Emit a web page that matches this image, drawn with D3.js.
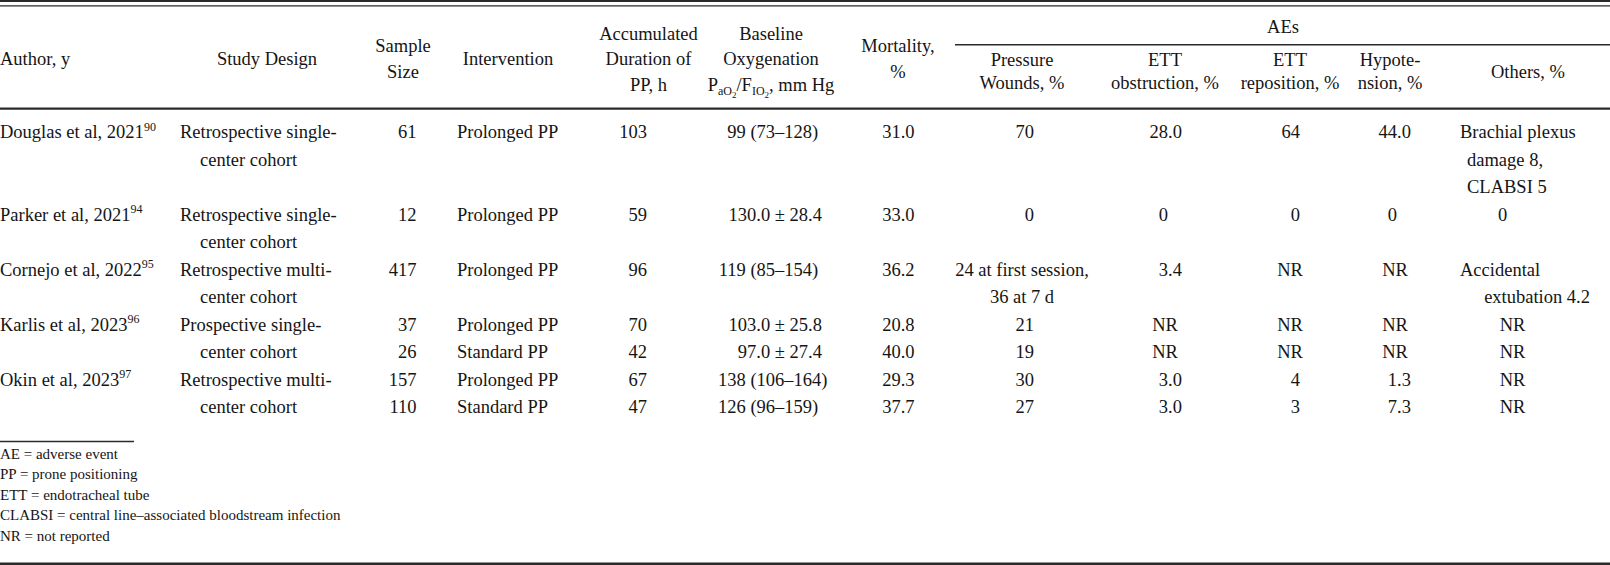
<!DOCTYPE html>
<html>
<head>
<meta charset="utf-8">
<script src="https://cdn.jsdelivr.net/npm/d3@7/dist/d3.min.js"></script>
<style>
  html, body { margin: 0; padding: 0; background: #fff; }
  svg text { font-family: "Liberation Serif", "Times New Roman", serif; fill: #151515; }
</style>
</head>
<body>
<svg id="chart" width="1610" height="565"></svg>
<script>
// ---------------- data ----------------
const authors = ["Douglas et al, 2021", "Parker et al, 2021", "Cornejo et al, 2022", "Karlis et al, 2023", "Okin et al, 2023"];
const refs = ["90", "94", "95", "96", "97"];
const designs = [
  ["Retrospective single-", "center cohort"],
  ["Retrospective single-", "center cohort"],
  ["Retrospective multi-", "center cohort"],
  ["Prospective single-", "center cohort"],
  ["Retrospective multi-", "center cohort"]
];
const armStudy = [0, 1, 2, 3, 3, 4, 4];
const sampleSize = [61, 12, 417, 37, 26, 157, 110];
const intervention = ["Prolonged PP", "Prolonged PP", "Prolonged PP", "Prolonged PP", "Standard PP", "Prolonged PP", "Standard PP"];
const duration = [103, 59, 96, 70, 42, 67, 47];
const baselineOx = ["99 (73–128)", "130.0 ± 28.4", "119 (85–154)", "103.0 ± 25.8", "97.0 ± 27.4", "138 (106–164)", "126 (96–159)"];
const mortality = ["31.0", "33.0", "36.2", "20.8", "40.0", "29.3", "37.7"];
const pressureWounds = [["70"], ["0"], ["24 at first session,", "36 at 7 d"], ["21"], ["19"], ["30"], ["27"]];
const ettObstruction = ["28.0", "0", "3.4", "NR", "NR", "3.0", "3.0"];
const ettReposition = ["64", "0", "NR", "NR", "NR", "4", "3"];
const hypotension = ["44.0", "0", "NR", "NR", "NR", "1.3", "7.3"];
const others = [["Brachial plexus", "damage 8,", "CLABSI 5"], ["0"], ["Accidental", "extubation 4.2"], ["NR"], ["NR"], ["NR"], ["NR"]];
const footnotes = ["AE = adverse event", "PP = prone positioning", "ETT = endotracheal tube", "CLABSI = central line–associated bloodstream infection", "NR = not reported"];

// ---------------- layout ----------------
const W = 1610, H = 565;
const FS = 18.5;
const svg = d3.select("#chart");

// column anchors
const colX = d3.scaleOrdinal()
  .domain(["author", "design", "designCont", "sample", "interv", "duration", "baseParen", "basePm", "mort",
           "pressNum", "pressText", "obs", "obsNR", "rep", "repNR", "hyp", "hypNR", "othLeft", "othCont", "othRight", "oth0", "othNR"])
  .range([0, 180, 200, 416.5, 457, 647, 750.4, 822, 914.5,
          1034, 1022, 1168, 1165, 1300, 1290, 1397, 1395, 1460, 1467, 1590, 1502.5, 1512.5]);

// row line positions (line index -> baseline)
const lineY = d3.scaleLinear().domain([0, 1]).range([138, 165.5]);

// compute study start lines
const studyHeights = authors.map((a, s) => {
  const arms = armStudy.map((st, i) => st === s ? i : -1).filter(i => i >= 0);
  let h = Math.max(designs[s].length, arms.length);
  arms.forEach(i => { h = Math.max(h, pressureWounds[i].length, others[i].length); });
  return h;
});
const studyStart = [];
studyHeights.reduce((acc, h, i) => { studyStart[i] = acc; return acc + h; }, 0);
const armLine = armStudy.map((s, i) => studyStart[s] + armStudy.slice(0, i).filter(x => x === s).length);

function txt(x, y, s, anchor, size) {
  return svg.append("text").attr("x", x).attr("y", y)
    .attr("text-anchor", anchor || "start")
    .style("font-size", (size || FS) + "px").text(s);
}

// ---------------- rules ----------------
const rule = (x1, x2, y, w) => svg.append("line").attr("x1", x1).attr("x2", x2).attr("y1", y).attr("y2", y)
  .attr("stroke", "#2b2b2b").attr("stroke-width", w);
rule(0, W, 1, 2);
rule(0, W, 5.8, 1.2);
rule(955, W, 44.7, 1.4);
rule(0, W, 108.6, 2.2);
rule(0, 134, 441.5, 1.4);
rule(0, W, 563.8, 2.4);

// ---------------- header ----------------
const hb1 = 39.5, hb2 = 65, hb3 = 90.5;   // 3-line header baselines
const h2a = 51.5, h2b = 77.5;             // 2-line header baselines
const ae1 = 65.5, ae2 = 89;               // under-AEs 2-line baselines
txt(0, hb2, "Author, y");
txt(267, hb2, "Study Design", "middle");
txt(403, h2a, "Sample", "middle"); txt(403, h2b, "Size", "middle");
txt(508, hb2, "Intervention", "middle");
txt(648.5, hb1, "Accumulated", "middle"); txt(648.5, hb2, "Duration of", "middle"); txt(648.5, hb3, "PP, h", "middle");
txt(771, hb1, "Baseline", "middle"); txt(771, hb2, "Oxygenation", "middle");
{
  const t = svg.append("text").attr("x", 771).attr("y", hb3).attr("text-anchor", "middle").style("font-size", FS + "px");
  t.append("tspan").text("P");
  t.append("tspan").attr("dy", 4).style("font-size", "12px").text("aO");
  t.append("tspan").attr("dy", 3).style("font-size", "9px").text("2");
  t.append("tspan").attr("dy", -7).text("/F");
  t.append("tspan").attr("dy", 4).style("font-size", "12px").text("IO");
  t.append("tspan").attr("dy", 3).style("font-size", "9px").text("2");
  t.append("tspan").attr("dy", -7).text(", mm Hg");
}
txt(898, h2a, "Mortality,", "middle"); txt(898, h2b, "%", "middle");
txt(1283, 32.5, "AEs", "middle");
txt(1022, ae1, "Pressure", "middle"); txt(1022, ae2, "Wounds, %", "middle");
txt(1165, ae1, "ETT", "middle"); txt(1165, ae2, "obstruction, %", "middle");
txt(1290, ae1, "ETT", "middle"); txt(1290, ae2, "reposition, %", "middle");
txt(1390, ae1, "Hypote-", "middle"); txt(1390, ae2, "nsion, %", "middle");
txt(1528, h2b, "Others, %", "middle");

// ---------------- body ----------------
authors.forEach((a, s) => {
  const y = lineY(studyStart[s]);
  const t = svg.append("text").attr("x", colX("author")).attr("y", y).style("font-size", FS + "px");
  t.append("tspan").text(a);
  t.append("tspan").attr("dy", -7.5).style("font-size", "12px").text(refs[s]);
  designs[s].forEach((ln, k) => txt(colX(k === 0 ? "design" : "designCont"), lineY(studyStart[s] + k), ln));
});

const spaceW = 0.25 * FS;
function decimalAlign(x, y, s) {
  const parts = s.split(".");
  txt(x, y, parts[0], "end");
  if (parts.length > 1) txt(x, y, "." + parts[1], "start");
}

armStudy.forEach((s, i) => {
  const L = armLine[i];
  const y = lineY(L);
  txt(colX("sample"), y, sampleSize[i], "end");
  txt(colX("interv"), y, intervention[i]);
  txt(colX("duration"), y, duration[i], "end");
  // baseline oxygenation: align "±" values right, range values on "("
  const b = baselineOx[i];
  if (b.includes("±")) {
    txt(colX("basePm"), y, b, "end");
  } else {
    const p = b.indexOf("(");
    txt(colX("baseParen") - spaceW, y, b.slice(0, p).trim(), "end");
    txt(colX("baseParen"), y, b.slice(p), "start");
  }
  txt(colX("mort"), y, mortality[i], "end");
  // pressure wounds
  pressureWounds[i].forEach((ln, k) => {
    if (/^\d+$/.test(ln)) txt(colX("pressNum"), lineY(L + k), ln, "end");
    else txt(colX("pressText"), lineY(L + k), ln, "middle");
  });
  // ETT obstruction
  if (ettObstruction[i] === "NR") txt(colX("obsNR"), y, "NR", "middle");
  else decimalAlign(colX("obs"), y, ettObstruction[i]);
  // ETT reposition
  if (ettReposition[i] === "NR") txt(colX("repNR"), y, "NR", "middle");
  else txt(colX("rep"), y, ettReposition[i], "end");
  // hypotension
  if (hypotension[i] === "NR") txt(colX("hypNR"), y, "NR", "middle");
  else decimalAlign(colX("hyp"), y, hypotension[i]);
  // others
  const o = others[i];
  if (o.length === 1 && o[0] === "NR") txt(colX("othNR"), y, "NR", "middle");
  else if (o.length === 1 && o[0] === "0") txt(colX("oth0"), y, "0", "middle");
  else o.forEach((ln, k) => {
    if (k === 0) txt(colX("othLeft"), lineY(L + k), ln);
    else if (/\d\.\d$/.test(ln)) txt(colX("othRight"), lineY(L + k), ln, "end");
    else txt(colX("othCont"), lineY(L + k), ln);
  });
});

// ---------------- footnotes ----------------
const footY = d3.scaleLinear().domain([0, 1]).range([458.5, 479]);
footnotes.forEach((f, k) => txt(0, footY(k), f, "start", 15));
</script>
</body>
</html>
